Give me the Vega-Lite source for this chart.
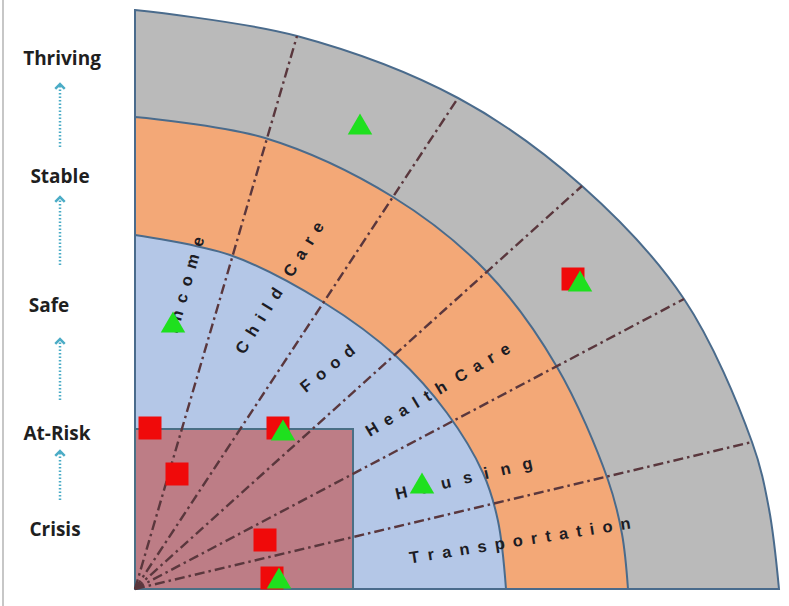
{
  "$schema": "https://vega.github.io/schema/vega-lite/v6.json",
  "width": 789,
  "height": 606,
  "autosize": {"type": "none"},
  "padding": 0,
  "background": "white",
  "config": {"view": {"stroke": null}},
  "datasets": {
    "gray": [
      {"u": 0, "v": 579}, {"u": 162, "v": 553}, {"u": 323, "v": 491}, {"u": 447, "v": 403},
      {"u": 549, "v": 290}, {"u": 617, "v": 147}, {"u": 634, "v": 80}, {"u": 644, "v": 0}
    ],
    "orange": [
      {"u": 0, "v": 472}, {"u": 130, "v": 451}, {"u": 258, "v": 392}, {"u": 352, "v": 317},
      {"u": 422, "v": 222}, {"u": 473, "v": 109}, {"u": 487, "v": 55}, {"u": 493, "v": 0}
    ],
    "blue": [
      {"u": 0, "v": 354}, {"u": 95, "v": 334}, {"u": 188, "v": 287}, {"u": 262, "v": 232},
      {"u": 312, "v": 176}, {"u": 348, "v": 116}, {"u": 363, "v": 68}, {"u": 371, "v": 0}
    ],
    "box": [{"u": 0, "v": 0, "u2": 218, "v2": 160}],
    "spokes": [
      {"u": 0, "v": 0, "u2": 162, "v2": 553},
      {"u": 0, "v": 0, "u2": 323, "v2": 491},
      {"u": 0, "v": 0, "u2": 447, "v2": 403},
      {"u": 0, "v": 0, "u2": 549, "v2": 290},
      {"u": 0, "v": 0, "u2": 617, "v2": 147}
    ],
    "sectors": [
      {"sector": "Income", "spaced": "I\u2002n\u2002c\u2002o\u2002m\u2002e", "u": 51, "v": 304},
      {"sector": "Child Care", "spaced": "C\u2002h\u2002i\u2002l\u2002d\u2003C\u2002a\u2002r\u2002e", "u": 145, "v": 301},
      {"sector": "Food", "spaced": "F\u2002o\u2002o\u2002d", "u": 193, "v": 220},
      {"sector": "Health Care", "spaced": "H\u2002e\u2002a\u2002l\u2002t\u2002h\u2002\u2005C\u2002a\u2002r\u2002e", "u": 303, "v": 199},
      {"sector": "Housing", "spaced": "H\u2002\u2005o\u2002\u2005u\u2002\u2005s\u2002\u2005i\u2002\u2005n\u2002\u2005g", "u": 329, "v": 110},
      {"sector": "Transportation", "spaced": "T\u2002r\u2002a\u2002n\u2002s\u2002p\u2002o\u2002r\u2002t\u2002a\u2002t\u2002i\u2002o\u2002n", "u": 385, "v": 48}
    ],
    "markers": [
      {"marker": "red square", "u": 438, "v": 310},
      {"marker": "red square", "u": 15, "v": 161},
      {"marker": "red square", "u": 143, "v": 161},
      {"marker": "red square", "u": 42, "v": 115},
      {"marker": "red square", "u": 130, "v": 49},
      {"marker": "red square", "u": 137, "v": 11},
      {"marker": "green triangle", "u": 225, "v": 465},
      {"marker": "green triangle", "u": 445, "v": 308},
      {"marker": "green triangle", "u": 38, "v": 267},
      {"marker": "green triangle", "u": 148, "v": 159},
      {"marker": "green triangle", "u": 144, "v": 11},
      {"marker": "green triangle", "u": 287, "v": 106}
    ],
    "levels": [
      {"level": "Thriving", "u": -73, "v": 530},
      {"level": "Stable", "u": -75, "v": 412},
      {"level": "Safe", "u": -86, "v": 283},
      {"level": "At-Risk", "u": -78, "v": 155},
      {"level": "Crisis", "u": -80, "v": 59}
    ],
    "arrows": [
      {"u": -75, "v": 442, "v2": 503},
      {"u": -75, "v": 324, "v2": 390},
      {"u": -75, "v": 189, "v2": 248},
      {"u": -75, "v": 89, "v2": 136}
    ],
    "frame": [{"u": -132, "v": -17, "v2": 589}]
  },
  "encoding": {
    "x": {"field": "u", "type": "quantitative", "scale": {"domain": [-135, 654], "nice": false, "zero": false}, "axis": null},
    "y": {"field": "v", "type": "quantitative", "scale": {"domain": [-17, 589], "nice": false, "zero": false}, "axis": null}
  },
  "layer": [
    {
      "data": {"name": "gray"},
      "mark": {"type": "area", "interpolate": "catmull-rom", "fill": "#bababa", "stroke": "#4a6b8c", "strokeWidth": 2, "fillOpacity": 1},
      "encoding": {"y2": {"datum": 0}}
    },
    {
      "data": {"name": "orange"},
      "mark": {"type": "area", "interpolate": "catmull-rom", "fill": "#f3a877", "stroke": "#4a6b8c", "strokeWidth": 2, "fillOpacity": 1},
      "encoding": {"y2": {"datum": 0}}
    },
    {
      "data": {"name": "blue"},
      "mark": {"type": "area", "interpolate": "catmull-rom", "fill": "#b4c7e7", "stroke": "#4a6b8c", "strokeWidth": 2, "fillOpacity": 1},
      "encoding": {"y2": {"datum": 0}}
    },
    {
      "data": {"name": "box"},
      "mark": {"type": "rect", "fill": "#bd7d86", "stroke": "#4a6f85", "strokeWidth": 2},
      "encoding": {"x2": {"field": "u2"}, "y2": {"field": "v2"}}
    },
    {
      "data": {"name": "spokes"},
      "mark": {"type": "rule", "stroke": "#5a373d", "strokeWidth": 2.4, "strokeDash": [10, 4, 2.5, 4]},
      "encoding": {"x2": {"field": "u2"}, "y2": {"field": "v2"}}
    },
    {
      "data": {"name": "sectors"},
      "transform": [{"filter": "datum.sector === 'Income'"}],
      "mark": {"type": "text", "angle": -74, "font": "Liberation Sans", "fontWeight": "bold", "fontSize": 16.5, "fill": "#1c1c24", "align": "center", "baseline": "middle"},
      "encoding": {"text": {"field": "spaced"}}
    },
    {
      "data": {"name": "sectors"},
      "transform": [{"filter": "datum.sector === 'Child Care'"}],
      "mark": {"type": "text", "angle": -58, "font": "Liberation Sans", "fontWeight": "bold", "fontSize": 16.5, "fill": "#1c1c24", "align": "center", "baseline": "middle"},
      "encoding": {"text": {"field": "spaced"}}
    },
    {
      "data": {"name": "sectors"},
      "transform": [{"filter": "datum.sector === 'Food'"}],
      "mark": {"type": "text", "angle": -39, "font": "Liberation Sans", "fontWeight": "bold", "fontSize": 16.5, "fill": "#1c1c24", "align": "center", "baseline": "middle"},
      "encoding": {"text": {"field": "spaced"}}
    },
    {
      "data": {"name": "sectors"},
      "transform": [{"filter": "datum.sector === 'Health Care'"}],
      "mark": {"type": "text", "angle": -31, "font": "Liberation Sans", "fontWeight": "bold", "fontSize": 16.5, "fill": "#1c1c24", "align": "center", "baseline": "middle"},
      "encoding": {"text": {"field": "spaced"}}
    },
    {
      "data": {"name": "sectors"},
      "transform": [{"filter": "datum.sector === 'Housing'"}],
      "mark": {"type": "text", "angle": -13, "font": "Liberation Sans", "fontWeight": "bold", "fontSize": 16.5, "fill": "#1c1c24", "align": "center", "baseline": "middle"},
      "encoding": {"text": {"field": "spaced"}}
    },
    {
      "data": {"name": "sectors"},
      "transform": [{"filter": "datum.sector === 'Transportation'"}],
      "mark": {"type": "text", "angle": -9, "font": "Liberation Sans", "fontWeight": "bold", "fontSize": 16.5, "fill": "#1c1c24", "align": "center", "baseline": "middle"},
      "encoding": {"text": {"field": "spaced"}}
    },
    {
      "data": {"name": "markers"},
      "mark": {"type": "point", "filled": true, "opacity": 1, "strokeWidth": 0},
      "encoding": {
        "shape": {"field": "marker", "type": "nominal", "scale": {"domain": ["red square", "green triangle"], "range": ["square", "triangle-up"]}, "legend": null},
        "color": {"field": "marker", "type": "nominal", "scale": {"domain": ["red square", "green triangle"], "range": ["#f00a0a", "#1ee01e"]}, "legend": null},
        "size": {"field": "marker", "type": "nominal", "scale": {"domain": ["red square", "green triangle"], "range": [529, 600]}, "legend": null}
      }
    },
    {
      "data": {"name": "levels"},
      "mark": {"type": "text", "font": "Open Sans", "fontWeight": "bold", "fontSize": 19, "fill": "#1f1f1f", "align": "center", "baseline": "middle"},
      "encoding": {"text": {"field": "level"}}
    },
    {
      "data": {"name": "arrows"},
      "mark": {"type": "rule", "stroke": "#4bacc6", "strokeWidth": 2.5, "strokeDash": [1.5, 2]},
      "encoding": {"y2": {"field": "v2"}}
    },
    {
      "data": {"name": "arrows"},
      "mark": {"type": "point", "shape": "M-1,0.6L0,-0.4L1,0.6", "filled": false, "stroke": "#4bacc6", "strokeWidth": 2.5, "size": 90, "opacity": 1},
      "encoding": {"y": {"field": "v2", "type": "quantitative", "scale": {"domain": [-17, 589], "nice": false, "zero": false}, "axis": null}}
    },
    {
      "data": {"name": "frame"},
      "mark": {"type": "rule", "stroke": "#b5b5b5", "strokeWidth": 1.5},
      "encoding": {"y2": {"field": "v2"}}
    }
  ]
}
